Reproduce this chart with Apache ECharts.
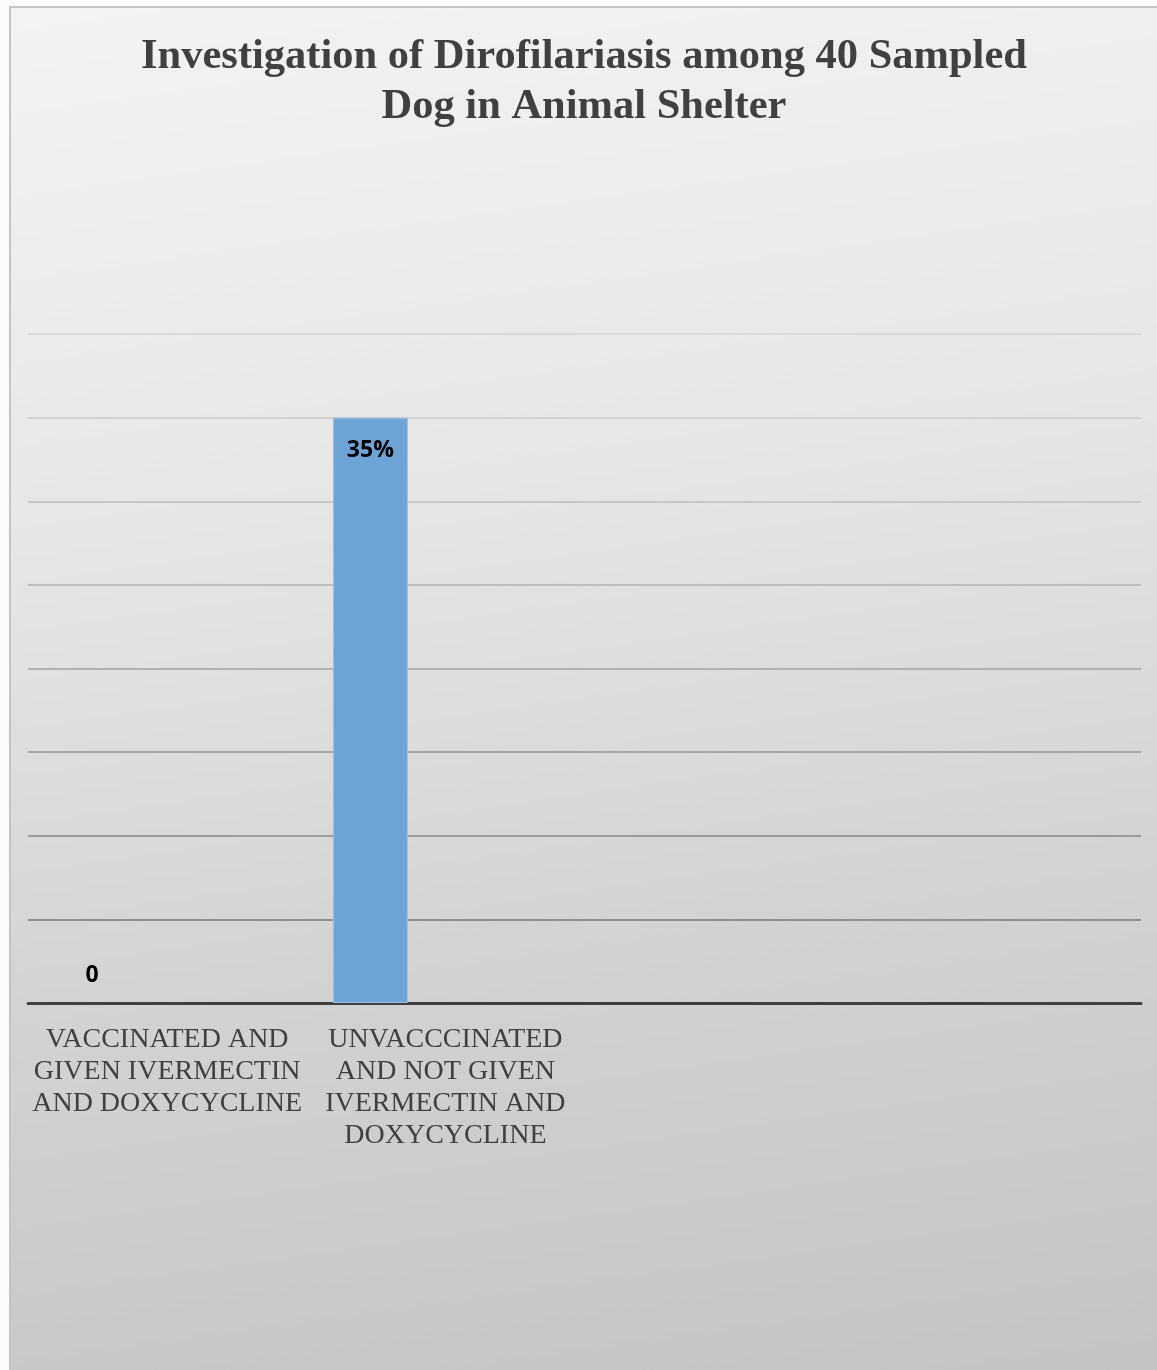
<!DOCTYPE html>
<html>
<head>
<meta charset="utf-8">
<script src="https://cdn.jsdelivr.net/npm/echarts@6/dist/echarts.min.js"></script>
<style>
html, body { margin: 0; padding: 0; width: 1157px; height: 1370px; overflow: hidden; background: #fdfafb; }
.frame {
  position: absolute; left: 9px; top: 6px; width: 1160px; height: 1380px;
  box-sizing: border-box; border: 2px solid #c4c4c4;
  background: linear-gradient(172deg, #f3f3f3 0%, #e6e6e6 35%, #d3d3d3 65%, #c3c3c3 100%);
}
#main { position: absolute; left: 0; top: 0; width: 1157px; height: 1370px; }
</style>
</head>
<body>
<div class="frame"></div>
<div id="main"></div>
<script>
// categories (wrapped as in the original chart) and values in percent
var categories = [
  'VACCINATED AND\nGIVEN IVERMECTIN\nAND DOXYCYCLINE',
  'UNVACCCINATED\nAND NOT GIVEN\nIVERMECTIN AND\nDOXYCYCLINE',
  '',
  ''
]
var seriesA = [0, 35, null, null]
var seriesB = [null, null, null, null]
var seriesC = [null, null, null, null]
var labelsA = ['0', '35%', '', '']
var yMin = 0
var yMax = 40
var yStep = 5

var chart = echarts.init(document.getElementById('main'))

var dataA = seriesA.map(function (v, i) {
  if (v === 0) {
    return { value: v, itemStyle: { borderWidth: 0 }, label: { position: 'top', distance: 16 } }
  }
  return v
})

var option = {
  backgroundColor: 'transparent',
  animation: false,
  title: {
    text: 'Investigation of Dirofilariasis among 40 Sampled\nDog in Animal Shelter',
    left: 579,
    top: 27,
    textAlign: 'center',
    textStyle: {
      fontFamily: 'Liberation Serif',
      fontWeight: 'bold',
      fontSize: 42.5,
      lineHeight: 50,
      color: '#404040'
    }
  },
  grid: { left: 28, right: 16, top: 334, bottom: 367, containLabel: false },
  xAxis: {
    type: 'category',
    data: categories,
    axisLine: { show: true, lineStyle: { color: '#404040', width: 3 } },
    axisTick: { show: false },
    axisLabel: {
      interval: 0,
      margin: 21,
      fontFamily: 'Liberation Serif',
      fontSize: 28,
      lineHeight: 32,
      color: '#404040',
      verticalAlign: 'top'
    }
  },
  yAxis: {
    type: 'value',
    min: yMin,
    max: yMax,
    interval: yStep,
    axisLine: { show: false },
    axisTick: { show: false },
    axisLabel: { show: false },
    splitLine: {
      lineStyle: {
        width: 2,
        color: ['#404040', '#8f8f8f', '#9a9a9a', '#a5a5a5', '#b1b1b1', '#bdbdbd', '#c8c8c8', '#d1d1d1', '#d9d9d9']
      }
    }
  },
  series: [
    {
      name: 'A',
      type: 'bar',
      data: dataA,
      barWidth: 75,
      barGap: '0%',
      itemStyle: { color: '#6ea3d6', borderColor: '#9cc1e4', borderWidth: 1 },
      label: {
        show: true,
        position: 'insideTop',
        distance: 21,
        fontFamily: 'Open Sans',
        fontWeight: 'bold',
        fontSize: 23,
        color: '#000000',
        formatter: function (p) { return labelsA[p.dataIndex] }
      },
      z: 3
    },
    { name: 'B', type: 'bar', data: seriesB, barWidth: 75, barGap: '0%' },
    { name: 'C', type: 'bar', data: seriesC, barWidth: 75, barGap: '0%' }
  ]
}
chart.setOption(option)
</script>
</body>
</html>
